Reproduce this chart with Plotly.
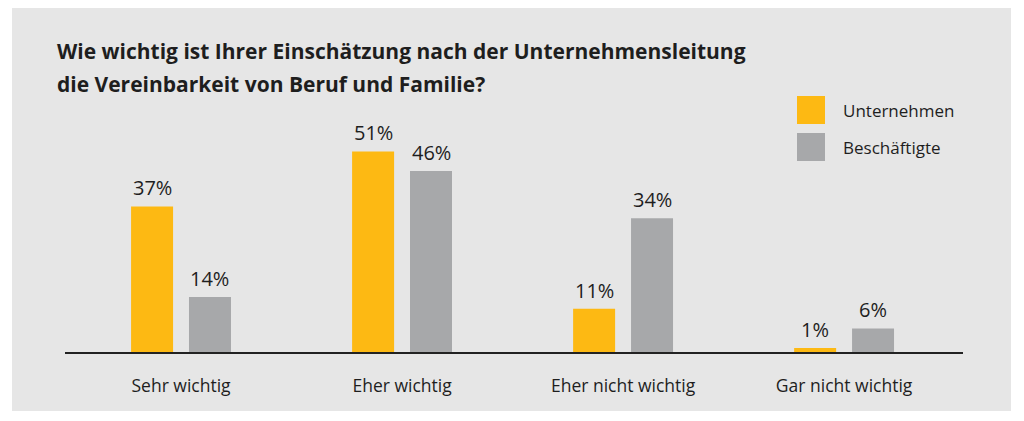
import plotly.graph_objects as go

categories = ["Sehr wichtig", "Eher wichtig", "Eher nicht wichtig", "Gar nicht wichtig"]
unternehmen = [37, 51, 11, 1]
beschaeftigte = [14, 46, 34, 6]
series_names = ["Unternehmen", "Beschäftigte"]
title_lines = ["Wie wichtig ist Ihrer Einschätzung nach der Unternehmensleitung",
               "die Vereinbarkeit von Beruf und Familie?"]

ORANGE = "#FDB913"
GRAY = "#A7A8AA"
PANEL = "#E6E6E6"
TEXT = "#1E1E1E"
FONT = "Open Sans"

# page body has an 8px margin; design in page coordinates and shift
OFF = 8
W, H = 1024 - OFF, 421 - OFF
ML, MR, MT, MB = 65 - OFF, 61, 116 - OFF, 69
pw, ph = W - ML - MR, H - MT - MB

bw = 0.19
off_o, off_g = -0.226, 0.036

fig = go.Figure()
fig.add_trace(go.Bar(x=categories, y=unternehmen, name=series_names[0], marker_color=ORANGE,
                     width=bw, offset=off_o, showlegend=False, marker_line_width=0))
fig.add_trace(go.Bar(x=categories, y=beschaeftigte, name=series_names[1], marker_color=GRAY,
                     width=bw, offset=off_g, showlegend=False, marker_line_width=0))

annotations = []
for i, c in enumerate(categories):
    for vals, off in ((unternehmen, off_o), (beschaeftigte, off_g)):
        annotations.append(dict(x=i + off + bw / 2, y=vals[i], xref="x", yref="y",
                                text=f"{vals[i]}%", showarrow=False, yanchor="bottom",
                                yshift=3, font=dict(family=FONT, size=20, color=TEXT)))

def px_x(x):
    return (x - OFF - ML) / pw

def px_y(y):
    return (H - MB - (y - OFF)) / ph

shapes = [dict(type="rect", xref="paper", yref="paper", x0=px_x(12), x1=px_x(1011),
               y0=px_y(411), y1=px_y(5), fillcolor=PANEL, line_width=0, layer="below")]

# legend
leg = [(series_names[0], ORANGE, 96, 124), (series_names[1], GRAY, 133, 161)]
for name, col, y0, y1 in leg:
    shapes.append(dict(type="rect", xref="paper", yref="paper", x0=px_x(797), x1=px_x(825),
                       y0=px_y(y1), y1=px_y(y0), fillcolor=col, line_width=0))
    annotations.append(dict(x=px_x(841), y=px_y((y0 + y1) / 2), xref="paper", yref="paper",
                            text=name, showarrow=False, xanchor="left", yanchor="middle",
                            font=dict(family=FONT, size=17, color=TEXT)))

# title
for line, yc in zip(title_lines, (51, 84)):
    annotations.append(dict(x=px_x(55), y=px_y(yc), xref="paper", yref="paper", text=f"<b>{line}</b>",
                            showarrow=False, xanchor="left", yanchor="middle",
                            font=dict(family=FONT, size=21, color=TEXT)))

fig.update_layout(
    width=W, height=H, margin=dict(l=ML, r=MR, t=MT, b=MB),
    paper_bgcolor="white", plot_bgcolor="rgba(0,0,0,0)",
    shapes=shapes, annotations=annotations, showlegend=False,
    xaxis=dict(range=[-0.525, 3.538], showgrid=False, zeroline=False, showline=True,
               linecolor="#222222", linewidth=1.5, ticks="", ticklabelstandoff=17,
               tickfont=dict(family=FONT, size=17.5, color=TEXT), fixedrange=True),
    yaxis=dict(range=[0, 60], visible=False, fixedrange=True),
)

fig.write_html("out.html")
